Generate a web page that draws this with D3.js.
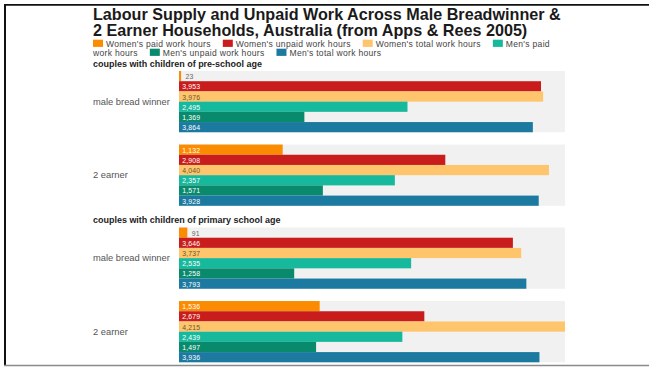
<!DOCTYPE html>
<html>
<head>
<meta charset="utf-8">
<script src="https://cdn.jsdelivr.net/npm/d3@7"></script>
<style>
  html, body { margin: 0; padding: 0; background: #fff; }
  svg { display: block; }
  text { font-family: "Liberation Sans", Arial, sans-serif; }
</style>
</head>
<body>
<svg id="chart" width="649" height="367"></svg>
<script>
// ---- data -------------------------------------------------------------
const titleLines = [
  "Labour Supply and Unpaid Work Across Male Breadwinner &",
  "2 Earner Households, Australia (from Apps & Rees 2005)"
];
const sections = [
  "couples with children of pre-school age",
  "couples with children of primary school age"
];
const householdTypes = ["male bread winner", "2 earner"];
const seriesNames = [
  "Women's paid work hours",
  "Women's unpaid work hours",
  "Women's total work hours",
  "Men's paid work hours",
  "Men's unpaid work hours",
  "Men's total work hours"
];
const seriesColors = ["#fb8b00", "#c81d1c", "#fec56d", "#17b99c", "#0a8a6d", "#1c7aa0"];
const labelColors  = ["#ffffff", "#ffffff", "#6d5626", "#ffffff", "#ffffff", "#ffffff"];

// values per section, per household type, in series order
const preSchoolMBW   = [23, 3953, 3976, 2495, 1369, 3864];
const preSchool2E    = [1132, 2908, 4040, 2357, 1571, 3928];
const primaryMBW     = [91, 3646, 3737, 2535, 1258, 3793];
const primary2E      = [1536, 2679, 4215, 2439, 1497, 3936];
const sectionValues = [[preSchoolMBW, preSchool2E], [primaryMBW, primary2E]];

// ---- layout -----------------------------------------------------------
const svg = d3.select("#chart");
const left = 93;
const barX0 = 179, barX1 = 565;
const sectionTops = [71, 227.5];
const sectionHeight = 134.8;

const x = d3.scaleLinear().domain([0, d3.max(sectionValues.flat(2))]).range([barX0, barX1]);
const fmt = d3.format(",");

// font size that makes a sample string span a given width
const probe = svg.append("text").attr("visibility", "hidden");
function fitSize(sample, width, weight, spacing) {
  probe.attr("font-size", 10).attr("font-weight", weight || 400)
    .attr("letter-spacing", 0).text(sample);
  const w10 = probe.node().getComputedTextLength();
  const extra = (spacing || 0) * sample.length;
  return 10 * (width - extra) / w10;
}
const titleSize   = fitSize(titleLines[0], 468, 700);
const legendSpacing = 0.3;
const legendSize  = fitSize(seriesNames[0], 105, 400, legendSpacing);
const sectionSize = fitSize(sections[0], 169, 700);
const catSize     = fitSize(householdTypes[0], 77, 400);
const valueSpacing = 0.15;
const valueSize   = fitSize("3,953", 18, 400, valueSpacing);
probe.remove();

// frame
svg.append("line").attr("x1", 4).attr("x2", 649).attr("y1", 4.8).attr("y2", 4.8)
  .attr("stroke", "#111").attr("stroke-width", 1.8);
svg.append("line").attr("x1", 5).attr("x2", 5).attr("y1", 4).attr("y2", 366)
  .attr("stroke", "#111").attr("stroke-width", 2);
svg.append("line").attr("x1", 4).attr("x2", 649).attr("y1", 365.5).attr("y2", 365.5)
  .attr("stroke", "#8a8a8a").attr("stroke-width", 1.5);

// title
const titleG = svg.append("g").attr("font-weight", 700).attr("font-size", titleSize).attr("fill", "#1a1a1a");
titleG.append("text").attr("x", left).attr("y", 19.8).text(titleLines[0]);
titleG.append("text").attr("x", left).attr("y", 36.4).text(titleLines[1]);

// legend, flowed word by word across two rows
const legendRight = 560;
const legendGap = 12;
const legendRows = [46.5, 55.5];
const legendG = svg.append("g").attr("font-size", legendSize)
  .attr("letter-spacing", legendSpacing).attr("fill", "#444");
const measure = legendG.append("text").attr("visibility", "hidden");
const textWidth = s => measure.text(s).node().getComputedTextLength();
let cx = left, row = 0;
seriesNames.forEach((name, i) => {
  if (i > 0) cx += legendGap;
  if (cx + 13 > legendRight) { row++; cx = left; }
  legendG.append("rect").attr("x", cx).attr("y", legendRows[row] - 6.8)
    .attr("width", 10).attr("height", 7.2).attr("fill", seriesColors[i]);
  cx += 13;
  let line = [];
  const flush = () => {
    if (!line.length) return;
    const s = line.join(" ");
    legendG.append("text").attr("x", cx).attr("y", legendRows[row]).text(s);
    cx += textWidth(s);
    line = [];
  };
  name.split(" ").forEach(wd => {
    const candidate = line.concat([wd]).join(" ");
    if (cx + textWidth(candidate) > legendRight && line.length) {
      flush();
      row++; cx = left;
      line = [wd];
    } else {
      line.push(wd);
    }
  });
  flush();
});
measure.remove();

// sections of grouped bars
const groupBand = d3.scaleBand().domain(householdTypes).paddingInner(0.167).paddingOuter(0);
const rowBand = d3.scaleBand().domain(seriesNames).padding(0);

sections.forEach((sec, si) => {
  const top = sectionTops[si];
  svg.append("text").attr("x", left).attr("y", top - 4.3).text(sec)
    .attr("font-size", sectionSize).attr("font-weight", 700).attr("fill", "#222");

  groupBand.range([top, top + sectionHeight]);
  householdTypes.forEach((ht, gi) => {
    const gy = groupBand(ht);
    const gh = groupBand.bandwidth();
    rowBand.range([gy, gy + gh]);
    const vals = sectionValues[si][gi];

    svg.append("rect").attr("x", x(0)).attr("y", gy).attr("width", x.range()[1] - x(0))
      .attr("height", gh).attr("fill", "#f1f1f1");

    svg.append("text").attr("x", left).attr("y", gy + gh / 2 + 3).text(ht)
      .attr("font-size", catSize).attr("fill", "#555");

    const g = svg.append("g");
    g.selectAll("rect").data(vals).join("rect")
      .attr("x", x(0))
      .attr("y", (d, i) => rowBand(seriesNames[i]))
      .attr("width", d => x(d) - x(0))
      .attr("height", rowBand.bandwidth())
      .attr("fill", (d, i) => seriesColors[i]);

    g.selectAll("text").data(vals).join("text")
      .attr("x", d => (x(d) - x(0) < 30 ? x(d) + 4.5 : x(0) + 3.2))
      .attr("y", (d, i) => rowBand(seriesNames[i]) + rowBand.bandwidth() / 2 + 3)
      .attr("font-size", valueSize)
      .attr("letter-spacing", valueSpacing)
      .attr("fill", (d, i) => (x(d) - x(0) < 30 ? "#666" : labelColors[i]))
      .text(d => fmt(d));
  });
});
</script>
</body>
</html>
